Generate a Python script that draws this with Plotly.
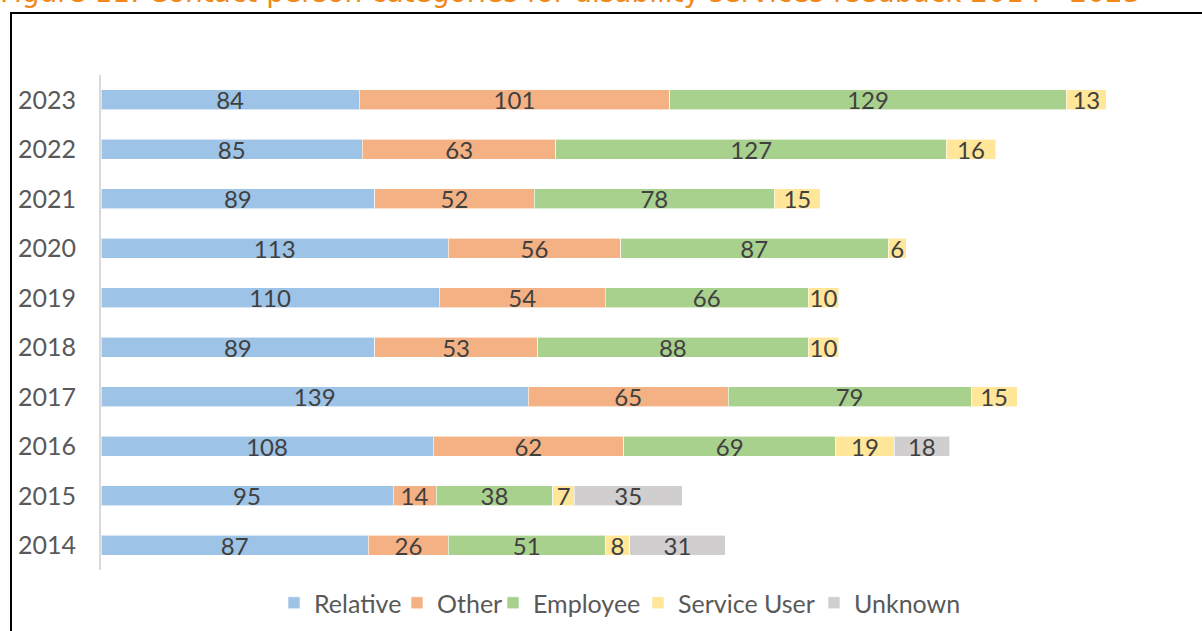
import plotly.graph_objects as go

years = ['2014', '2015', '2016', '2017', '2018', '2019', '2020', '2021', '2022', '2023']
relative = [87, 95, 108, 139, 89, 110, 113, 89, 85, 84]
other = [26, 14, 62, 65, 53, 54, 56, 52, 63, 101]
employee = [51, 38, 69, 79, 88, 66, 87, 78, 127, 129]
service_user = [8, 7, 19, 15, 10, 10, 6, 15, 16, 13]
unknown = [31, 35, 18, None, None, None, None, None, None, None]

series = [
    ('Relative', relative, '#9DC3E6'),
    ('Other', other, '#F4B183'),
    ('Employee', employee, '#A9D18E'),
    ('Service User', service_user, '#FFE699'),
    ('Unknown', unknown, '#D0CECE'),
]
# left pixel of each legend entry text in the reference
legend_text_px = [316, 439, 535, 680, 856]

FONT = 'Lato'
W, H = 1202, 631
L, R, T, B = 101, 25, 75, 61
pw, ph = W - L - R, H - T - B

def px2x(px):
    return (px - L) / pw

def py2y(py):
    return (H - B - py) / ph

fig = go.Figure()
legend_layout = {}
for i, (name, vals, col) in enumerate(series):
    lname = 'legend' if i == 0 else f'legend{i + 1}'
    fig.add_trace(go.Bar(
        y=years, x=vals, name=name, orientation='h',
        marker=dict(color=col, line=dict(color='rgba(255,255,255,0.6)', width=1)),
        text=[('' if v is None else str(v)) for v in vals],
        textposition='inside', insidetextanchor='middle', textangle=0,
        constraintext='none',
        textfont=dict(family=FONT, size=24, color='#404040'),
        cliponaxis=False, legend=lname,
    ))
    legend_layout[lname] = dict(
        orientation='h', x=px2x(legend_text_px[i] - 42), xanchor='left',
        y=py2y(603), yanchor='middle', itemwidth=30,
        font=dict(family=FONT, size=25, color='#595959'),
        bgcolor='rgba(0,0,0,0)')

fig.update_layout(
    width=W, height=H,
    barmode='stack', bargap=0.59,
    margin=dict(l=L, r=R, t=T, b=B, autoexpand=False),
    plot_bgcolor='white', paper_bgcolor='white',
    font=dict(family=FONT, color='#595959'),
    xaxis=dict(range=[0, 350], visible=False, showgrid=False, automargin=False),
    yaxis=dict(showline=True, linecolor='#D9D9D9', linewidth=2, ticks='', automargin=False,
               ticklabelstandoff=18, tickfont=dict(family=FONT, size=25, color='#595959'),
               showgrid=False),
    showlegend=True,
    shapes=[dict(type='rect', xref='paper', yref='paper',
                 x0=px2x(11), x1=px2x(1215), y0=py2y(645), y1=py2y(13),
                 line=dict(color='black', width=2), fillcolor='rgba(0,0,0,0)', layer='above')],
    annotations=[dict(text='Figure 11: Contact person categories for disability services feedback 2014 - 2023',
                      xref='paper', yref='paper', x=px2x(-2), xanchor='left',
                      y=py2y(-7.5), yanchor='middle', showarrow=False,
                      font=dict(family='DejaVu Sans', size=28, color='#F0891A'))],
    **legend_layout,
)

fig.write_html('out.html', config={'displayModeBar': False},
               post_script="document.body.style.margin='0px';document.body.style.padding='0px';")
